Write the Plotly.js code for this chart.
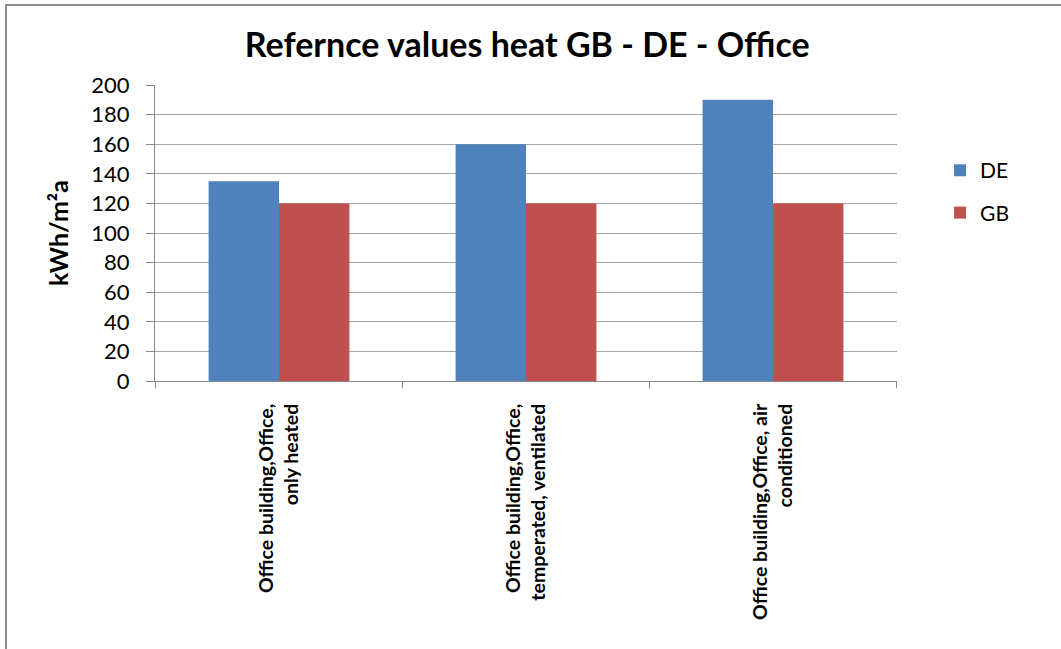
<!DOCTYPE html>
<html>
<head>
<meta charset="utf-8">
<script src="https://cdn.plot.ly/plotly-3.0.1.min.js"></script>
<style>
  html, body { margin: 0; padding: 0; background: #fff; }
  #wrap { position: absolute; left: 0; top: 0; width: 1061px; height: 649px; }
  #frame { position: absolute; left: 5px; top: 4px; width: 1056px; height: 645px;
           border-top: 2px solid #8c8c8c; border-left: 2px solid #8c8c8c; pointer-events: none; z-index: 5; }
  #chart { position: absolute; left: 0; top: 0; width: 1061px; height: 649px; }
</style>
</head>
<body>
<div id="wrap">
  <div id="chart"></div>
  <div id="frame"></div>
</div>
<script>
const categories = [
  "Office building,Office,<br>only heated",
  "Office building,Office,<br>temperated, ventilated",
  "Office building,Office, air<br>conditioned"
];
const seriesNames = ["DE", "GB"];
const deValues = [135, 160, 190];
const gbValues = [120, 120, 120];
const yTicks = [0, 20, 40, 60, 80, 100, 120, 140, 160, 180, 200];

const FONT = "Lato, 'Open Sans', sans-serif";

const traces = [
  { type: "bar", name: seriesNames[0], x: categories, y: deValues, legendgroup: "g1",
    marker: { color: "#4f81bd", line: { width: 0 } } },
  { type: "bar", name: seriesNames[1], x: categories, y: gbValues, legendgroup: "g2",
    marker: { color: "#c0504d", line: { width: 0 } } }
];

const layout = {
  width: 1061, height: 649,
  paper_bgcolor: "#ffffff", plot_bgcolor: "#ffffff",
  margin: { l: 155, r: 164, t: 85, b: 268, pad: 0 },
  barmode: "group", bargap: 0.43, bargroupgap: 0,
  title: { text: "<b>Refernce values heat GB - DE - Office</b>",
           font: { family: FONT, size: 34, color: "#000" },
           x: 0.497, xanchor: "center", y: 0.93, yanchor: "middle" },
  showlegend: true,
  legend: { x: 1.058, xanchor: "left", y: 0.78, yanchor: "top",
            font: { family: FONT, size: 21, color: "#000" },
            tracegroupgap: 12, itemwidth: 30, bgcolor: "rgba(0,0,0,0)" },
  xaxis: {
    type: "category", tickangle: -90,
    tickfont: { family: FONT, size: 19.5, color: "#000", weight: "bold" },
    showline: true, linecolor: "#888", linewidth: 1,
    ticks: "outside", ticklen: 14, tickcolor: "rgba(0,0,0,0)", showgrid: false, zeroline: false,
    automargin: false
  },
  yaxis: {
    range: [0, 200], tickvals: yTicks, ticktext: yTicks.map(String),
    tickfont: { family: FONT, size: 22, color: "#000" },
    showline: true, linecolor: "#888", linewidth: 1,
    ticks: "outside", ticklen: 8, tickcolor: "#888", ticklabelstandoff: 12,
    showgrid: true, gridcolor: "#a6a6a6", gridwidth: 1, zeroline: false,
    title: { text: "<b>kWh/m²a</b>", font: { family: FONT, size: 25, color: "#000" }, standoff: 15 },
    automargin: false
  },
  shapes: categories.map((c, i) => ({
    type: "line", xref: "x", yref: "paper", x0: i + 0.5, x1: i + 0.5, y0: 0, y1: -0.025,
    line: { color: "#888", width: 1 }
  })).concat([{ type: "line", xref: "x", yref: "paper", x0: -0.5, x1: -0.5, y0: 0, y1: -0.025,
    line: { color: "#888", width: 1 } }])
};

Plotly.newPlot("chart", traces, layout, { displayModeBar: false, staticPlot: true });
</script>
</body>
</html>
